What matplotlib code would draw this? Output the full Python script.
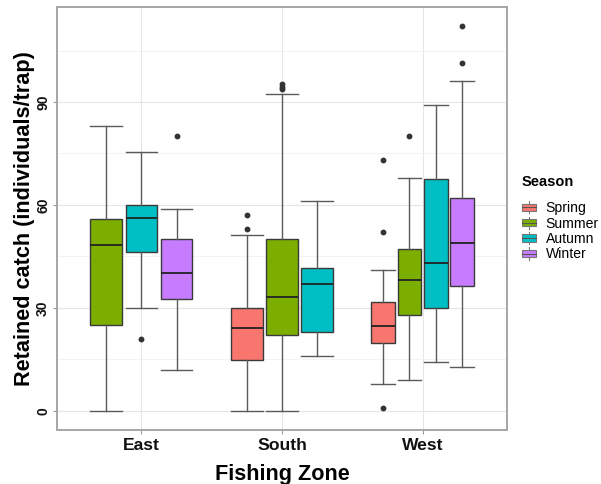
import matplotlib
matplotlib.use("Agg")
import matplotlib.pyplot as plt
from matplotlib.patches import Patch, Rectangle
from matplotlib.lines import Line2D
from matplotlib.legend_handler import HandlerBase

plt.rcParams['font.family'] = ['Liberation Sans', 'DejaVu Sans']

zones = ['East', 'South', 'West']
seasons = ['Spring', 'Summer', 'Autumn', 'Winter']
season_colors = ['#F8766D', '#7CAE00', '#00BFC4', '#C77CFF']

box_zone = ['East', 'East', 'East', 'South', 'South', 'South', 'West', 'West', 'West', 'West']
box_season = ['Summer', 'Autumn', 'Winter', 'Spring', 'Summer', 'Autumn', 'Spring', 'Summer', 'Autumn', 'Winter']
whisker_low = [0, 30.0, 12.0, 0, 0, 16.0, 7.9, 8.9, 14.1, 12.8]
q1 = [24.9, 46.2, 32.6, 14.8, 22.2, 23.0, 19.9, 28.0, 30.0, 36.5]
median = [48.2, 56.1, 40.1, 24.1, 33.2, 37.1, 24.6, 38.1, 43.2, 49.0]
q3 = [55.9, 60.1, 50.0, 29.9, 50.0, 41.5, 31.8, 47.2, 67.5, 62.1]
whisker_high = [83.1, 75.3, 58.9, 51.2, 92.3, 61.1, 41.1, 67.9, 89.2, 96.2]
outliers = [[], [20.9], [80.1], [57.1, 53.1], [93.7, 94.5, 95.3], [],
            [73.1, 52.0, 0.9], [80.0], [], [112.2, 101.3]]

y_ticks = [0, 30, 60, 90]


class BoxKey(HandlerBase):
    def create_artists(self, legend, orig_handle, xdescent, ydescent,
                       width, height, fontsize, trans):
        x0, y0 = -xdescent, -ydescent
        whisk = Line2D([x0 + width / 2] * 2, [y0, y0 + height],
                       color='#777777', lw=0.8, transform=trans)
        rect = Rectangle((x0, y0 + height * 0.2), width, height * 0.6,
                         facecolor=orig_handle.get_facecolor(),
                         edgecolor='#777777', lw=0.8, transform=trans)
        med = Line2D([x0, x0 + width], [y0 + height / 2] * 2,
                     color='#555555', lw=0.8, transform=trans)
        return [whisk, rect, med]


fig = plt.figure(figsize=(6.01, 4.84), dpi=100)
ax = fig.add_axes([0.0948, 0.1116, 0.7488, 0.8739])

dodge_total = 0.75
for zi, z in enumerate(zones):
    idx = [i for i, bz in enumerate(box_zone) if bz == z]
    n = len(idx)
    slot = dodge_total / n
    for k, i in enumerate(idx):
        pos = (zi + 1) - dodge_total / 2 + slot * (k + 0.5)
        width = slot * 0.9
        color = season_colors[seasons.index(box_season[i])]
        stats = [dict(med=median[i], q1=q1[i], q3=q3[i], whislo=whisker_low[i],
                      whishi=whisker_high[i], fliers=outliers[i])]
        ax.bxp(stats, positions=[pos], widths=[width], patch_artist=True,
               showcaps=True, manage_ticks=False,
               boxprops=dict(facecolor=color, edgecolor='#3a3a3a', linewidth=1.0),
               medianprops=dict(color='#222222', linewidth=1.3),
               whiskerprops=dict(color='#5a5a5a', linewidth=1.0),
               capprops=dict(color='#5a5a5a', linewidth=1.0),
               capwidths=[width],
               flierprops=dict(marker='o', markersize=3.2, markerfacecolor='#333333',
                               markeredgecolor='#333333', linestyle='none'),
               zorder=3)

ax.set_xlim(0.4, 3.6)
ax.set_ylim(-5.6, 117.7)
ax.set_xticks([1, 2, 3])
ax.set_xticklabels(zones, fontsize=12.6, fontweight='bold', color='#111111')
ax.set_yticks(y_ticks)
ax.set_yticklabels([str(v) for v in y_ticks], fontsize=10, fontweight='bold',
                   rotation=90, va='center', color='#111111')
ax.set_yticks([15, 45, 75, 105], minor=True)
ax.tick_params(axis='both', which='major', color='#999999', length=3, width=0.8)
ax.tick_params(axis='x', pad=3)
ax.tick_params(axis='y', pad=2)
ax.tick_params(axis='both', which='minor', length=0)

ax.grid(True, which='major', color='#E6E6E6', linewidth=0.8, zorder=0)
ax.grid(True, which='minor', axis='y', color='#F1F1F1', linewidth=0.6, zorder=0)
ax.set_axisbelow(True)
for sp in ax.spines.values():
    sp.set_color('#A6A6A6')
    sp.set_linewidth(1.4)

ax.set_xlabel('Fishing Zone', fontsize=15.6, fontweight='bold', labelpad=8)
ax.set_ylabel('Retained catch (individuals/trap)', fontsize=15.6, fontweight='bold', labelpad=1)

handles = [Patch(facecolor=c) for c in season_colors]
leg = fig.legend(handles, seasons, loc='upper left', bbox_to_anchor=(0.852, 0.6595),
                 frameon=False, fontsize=10.1, title='Season',
                 title_fontproperties={'weight': 'bold', 'size': 10.5},
                 handlelength=1.0, handleheight=0.95, handletextpad=0.7,
                 labelspacing=0.1, borderpad=0.2,
                 handler_map={Patch: BoxKey()})
leg._legend_box.align = 'left'
leg._legend_box.sep = 9

fig.savefig('out.png', dpi=100, facecolor='white')
